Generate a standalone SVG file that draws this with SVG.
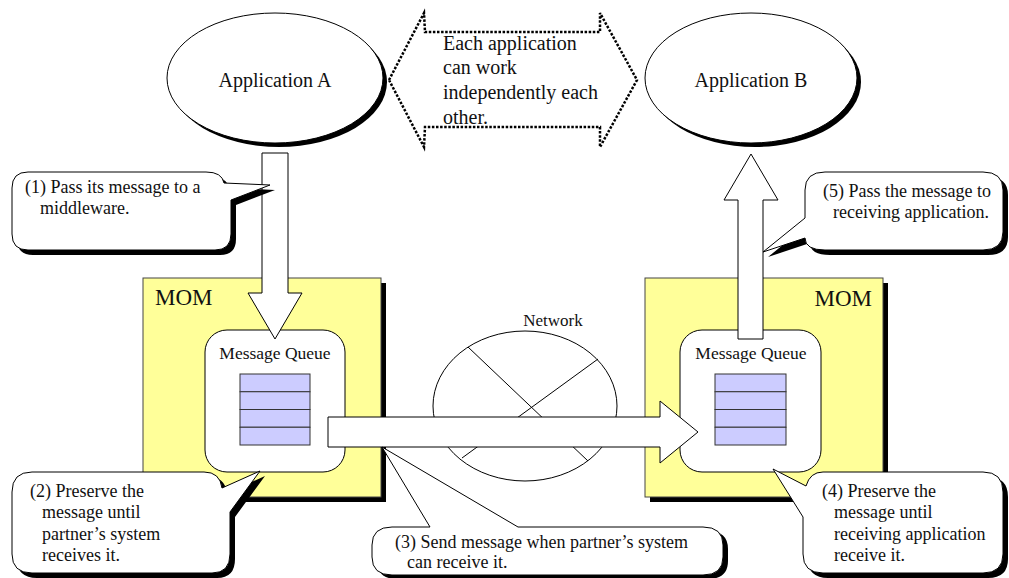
<svg xmlns="http://www.w3.org/2000/svg" width="1009" height="578" viewBox="0 0 1009 578">
<style>
text{font-family:"Liberation Serif","Times New Roman",serif;fill:#111}
.app{font-size:20px;text-anchor:middle}
.co{font-size:18px}
.mom{font-size:23px}
.mq{font-size:17.5px;text-anchor:middle}
.shadow{fill:#000;stroke:none}
.ol{fill:#fff;stroke:#000;stroke-width:1}
.yel{fill:#ffff99;stroke:#444;stroke-width:1}
.q{fill:#ccccff;stroke:#333;stroke-width:1}
</style>
<rect width="1009" height="578" fill="#fff"/>

<g id="mom-left">
<rect class="shadow" x="148" y="283" width="238" height="219"/>
<rect class="yel" x="143" y="278" width="238" height="219"/>
<text class="mom" x="155" y="305">MOM</text>
</g>
<g id="mom-right">
<rect class="shadow" x="650" y="283" width="238" height="219"/>
<rect class="yel" x="645" y="278" width="238" height="219"/>
<text class="mom" x="872" y="306" text-anchor="end">MOM</text>
</g>

<g id="queue-left">
<rect class="ol" x="205" y="330" width="140" height="142" rx="22"/>
<text class="mq" x="275" y="359">Message Queue</text>
<rect class="q" x="240" y="374" width="70" height="17.75"/>
<rect class="q" x="240" y="391.75" width="70" height="17.75"/>
<rect class="q" x="240" y="409.5" width="70" height="17.75"/>
<rect class="q" x="240" y="427.25" width="70" height="17.75"/>
</g>
<g id="queue-right">
<rect class="ol" x="680" y="330" width="141" height="142" rx="22"/>
<text class="mq" x="751" y="359">Message Queue</text>
<rect class="q" x="715" y="374" width="71" height="17.75"/>
<rect class="q" x="715" y="391.75" width="71" height="17.75"/>
<rect class="q" x="715" y="409.5" width="71" height="17.75"/>
<rect class="q" x="715" y="427.25" width="71" height="17.75"/>
</g>

<g id="network">
<text x="553" y="326" font-size="17px" text-anchor="middle">Network</text>
<ellipse class="ol" cx="525" cy="406" rx="92" ry="75"/>
<line x1="468" y1="347" x2="588" y2="461" stroke="#000"/>
<line x1="598" y1="359" x2="462" y2="458" stroke="#000"/>
</g>

<g id="connectors">
<polygon class="ol" points="262,153 288,153 288,293 302,293 275,339 248,293 262,293"/>
<polygon class="ol" points="738,339 763,339 763,200 778,200 751,154 724,200 738,200"/>
<polygon class="ol" points="328,417 660,417 660,401 698,432 660,463 660,447 328,447"/>
<polygon points="389,80 424,13 425,32 600,32 600,13 637,80 600,147 600,127 425,127 424,147" fill="none" stroke="#000" stroke-width="2.5" stroke-dasharray="2.5 1.6"/>
</g>

<g id="independence-note">
<text x="443" y="50" font-size="20px">Each application</text>
<text x="443" y="74" font-size="20px">can work</text>
<text x="443" y="99" font-size="20px">independently each</text>
<text x="443" y="124" font-size="20px">other.</text>
</g>

<g id="app-a">
<ellipse class="shadow" cx="279" cy="82" rx="108" ry="65"/>
<ellipse class="ol" cx="275" cy="78" rx="108" ry="65"/>
<text class="app" x="275" y="87">Application A</text>
</g>
<g id="app-b">
<ellipse class="shadow" cx="755" cy="82" rx="106" ry="65"/>
<ellipse class="ol" cx="751" cy="78" rx="106" ry="65"/>
<text class="app" x="751" y="87">Application B</text>
</g>

<g id="callout-1">
<path class="shadow" transform="translate(5,5)" d="M28,172 H206 Q222,172 224,183 L270,185 L231,200 V234 Q231,250 215,250 H28 Q12,250 12,234 V188 Q12,172 28,172 Z"/>
<path class="ol" d="M28,172 H206 Q222,172 224,183 L270,185 L231,200 V234 Q231,250 215,250 H28 Q12,250 12,234 V188 Q12,172 28,172 Z"/>
<text class="co" x="25" y="193">(1) Pass its message to a</text>
<text class="co" x="40" y="214">middleware.</text>
</g>

<g id="callout-5">
<path class="shadow" transform="translate(5,5)" d="M825,172 H983 Q1003,172 1003,190 V232 Q1003,250 983,250 H825 Q805,250 805,238 L763,252 L805,218 V190 Q805,172 825,172 Z"/>
<path class="ol" d="M825,172 H983 Q1003,172 1003,190 V232 Q1003,250 983,250 H825 Q805,250 805,238 L763,252 L805,218 V190 Q805,172 825,172 Z"/>
<text class="co" x="823" y="197">(5) Pass the message to</text>
<text class="co" x="833" y="218">receiving application.</text>
</g>

<g id="callout-2">
<path class="shadow" transform="translate(5,5)" d="M32,472 H204 Q220,472 222,488 L260,471 L230,512 V554 Q230,573 212,573 H32 Q12,573 12,554 V492 Q12,472 32,472 Z"/>
<path class="ol" d="M32,472 H204 Q220,472 222,488 L260,471 L230,512 V554 Q230,573 212,573 H32 Q12,573 12,554 V492 Q12,472 32,472 Z"/>
<text class="co" x="30" y="497">(2) Preserve the</text>
<text class="co" x="42" y="518">message until</text>
<text class="co" x="42" y="540">partner’s system</text>
<text class="co" x="42" y="561">receives it.</text>
</g>

<g id="callout-3">
<path class="shadow" transform="translate(5,4)" d="M372,545 Q372,527 392,527 H430 L382,447 L518,527 H703 Q723,527 723,545 V557 Q723,575 703,575 H392 Q372,575 372,557 Z"/>
<path class="ol" d="M372,545 Q372,527 392,527 H430 L382,447 L518,527 H703 Q723,527 723,545 V557 Q723,575 703,575 H392 Q372,575 372,557 Z"/>
<text class="co" x="395" y="548">(3) Send message when partner’s system</text>
<text class="co" x="407" y="568">can receive it.</text>
</g>

<g id="callout-4">
<path class="shadow" transform="translate(5,5)" d="M823,472 H983 Q1003,472 1003,492 V554 Q1003,573 983,573 H823 Q803,573 803,554 V517 L773,469 L806,486 Q810,472 823,472 Z"/>
<path class="ol" d="M823,472 H983 Q1003,472 1003,492 V554 Q1003,573 983,573 H823 Q803,573 803,554 V517 L773,469 L806,486 Q810,472 823,472 Z"/>
<text class="co" x="822" y="497">(4) Preserve the</text>
<text class="co" x="834" y="518">message until</text>
<text class="co" x="834" y="540">receiving application</text>
<text class="co" x="834" y="561">receive it.</text>
</g>
</svg>
